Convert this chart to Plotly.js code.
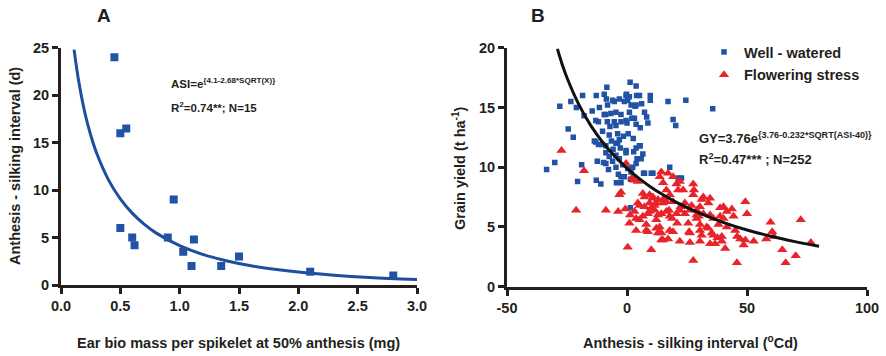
<!DOCTYPE html>
<html>
<head>
<meta charset="utf-8">
<script src="https://cdn.plot.ly/plotly-3.0.1.min.js"></script>
<style>
  html, body { margin: 0; padding: 0; background: #ffffff; }
  #chart { width: 886px; height: 356px; }
</style>
</head>
<body>
<div id="chart"></div>
<script>
// ---------- Panel A data ----------
const earMass = [0.45, 0.50, 0.55, 0.50, 0.60, 0.62, 0.90, 0.95, 1.03, 1.10, 1.12, 1.35, 1.50, 2.10, 2.80];
const asiDays = [24.0, 16.0, 16.5, 6.0, 5.0, 4.2, 5.0, 9.0, 3.5, 2.0, 4.8, 2.0, 3.0, 1.4, 1.0];
// fitted curve ASI = e^(4.1 - 2.68*sqrt(X))
const fitAx = [0.11, 0.15, 0.2, 0.25, 0.3, 0.4, 0.5, 0.6, 0.7, 0.8, 1.0, 1.2, 1.4, 1.6, 1.8, 2.0, 2.3, 2.6, 3.0];
const fitAy = [24.8, 21.4, 18.2, 15.8, 13.9, 11.08, 9.07, 7.57, 6.41, 5.49, 4.14, 3.20, 2.53, 2.03, 1.66, 1.36, 1.04, 0.80, 0.58];
const xTicksA = ["0.0", "0.5", "1.0", "1.5", "2.0", "2.5", "3.0"];
const yTicksA = ["0", "5", "10", "15", "20", "25"];

// ---------- Panel B data ----------
const wwASI = [-33.5,-30.1,-28.0,-23.4,-24.5,-22.4,-21.1,-18.5,-17.9,-18.9,-20.6,-14.5,-12.8,-13.0,-11.9,-13.6,-11.9,-13.0,-12.4,-12.8,
  -10.9,-10.2,-10.2,-9.5,-9.5,-8.6,-8.4,-8.1,-8.8,-8.2,-8.8,-8.8,-8.8,-7.7,-7.4,-7.4,-7.1,-6.7,-6.0,-5.3,
  -5.3,-4.6,-4.6,-4.6,-4.6,-4.6,-4.4,-3.9,-3.9,-3.2,-3.2,-3.2,-2.5,-2.5,-2.5,-2.5,-1.8,-1.1,-1.1,-0.4,
  -0.4,-0.4,-0.4,-0.2,0.3,0.0,0.3,1.0,1.0,1.3,1.5,1.4,1.7,1.7,2.0,2.4,2.6,2.8,3.1,3.4,
  3.8,3.8,3.8,3.8,3.8,4.0,4.2,5.2,5.2,5.5,5.5,5.9,6.1,6.6,6.9,7.3,7.3,8.2,8.7,9.7,
  9.7,10.1,10.8,17.1,17.8,19.2,20.3,21.3,22.7,24.5,35.7,-6.5,-5.8,-2.8,-1.5,-6.0,-9.8,-11.5,0.5,-3.6];
const wwGY = [9.8,10.4,15.1,15.5,13.2,12.5,15.0,16.0,14.3,10.2,8.8,14.7,16.0,13.9,13.8,12.2,11.9,12.1,10.5,8.9,
  8.6,11.9,13.0,14.4,16.1,15.7,16.7,15.2,14.4,13.8,11.8,11.2,10.3,9.8,10.9,12.7,13.4,14.5,15.6,15.5,
  13.8,14.6,13.5,12.0,11.0,10.0,8.7,12.8,12.0,15.7,12.3,10.7,14.4,13.8,8.7,9.2,10.2,15.5,9.2,16.0,
  13.9,11.4,11.2,16.1,15.6,13.7,9.9,15.9,14.6,17.1,9.0,6.6,15.2,9.6,14.1,10.0,12.4,11.3,14.1,15.1,
  16.8,15.2,13.6,11.6,10.3,16.0,10.7,16.0,11.8,13.3,11.8,10.7,15.3,11.1,9.5,14.6,9.5,14.2,13.7,16.0,
  15.6,9.5,9.5,15.5,10.0,14.0,13.5,9.1,9.1,15.6,14.9,12.2,11.5,11.6,12.6,10.5,10.4,15.0,12.8,9.4];

const fsASI = [-27.3,-17.9,-21.2,-8.8,-3.7,-0.7,-2.5,-3.2,-0.4,0.3,1.3,1.0,3.8,3.1,2.1,3.1,4.5,4.5,5.2,5.2,
  3.8,6.6,7.3,7.3,6.6,8.0,8.0,8.7,8.7,9.4,9.4,9.4,10.1,10.8,10.8,11.5,12.2,12.2,12.2,12.9,
  12.9,13.6,13.6,14.3,14.3,14.3,14.3,15.0,15.0,15.0,15.0,16.4,16.4,16.4,17.1,17.1,17.5,17.8,17.8,17.8,
  18.8,19.2,19.2,19.2,20.6,20.6,20.9,21.3,22.0,22.0,22.0,22.3,23.4,24.1,24.1,25.5,25.9,26.2,26.2,26.2,
  26.9,27.6,27.9,27.6,27.6,29.0,29.0,29.0,29.9,30.4,30.4,30.4,30.4,31.1,31.1,31.8,31.8,33.2,33.9,33.9,
  34.6,34.6,34.6,35.3,36.0,36.0,36.7,37.7,38.1,38.8,38.8,39.5,39.5,40.2,40.2,40.9,41.6,41.6,43.7,44.4,
  45.1,45.8,45.9,47.2,48.6,49.3,49.3,50.0,52.8,58.0,59.8,60.5,61.2,64.7,66.1,70.3,72.4,76.6,12.9,11.5,10.1];
const fsGY = [11.4,9.7,6.4,6.4,6.3,6.5,7.9,7.7,10.3,3.3,6.0,5.3,5.7,6.3,9.1,8.9,8.8,7.0,6.8,5.6,
  4.7,7.8,7.5,6.7,5.9,5.2,4.7,6.1,4.6,7.7,7.0,6.3,3.1,7.4,7.5,6.4,7.0,5.6,4.9,6.0,
  4.5,9.2,5.0,9.6,6.1,4.5,3.9,8.7,7.3,7.0,3.9,8.1,7.1,6.3,9.5,4.0,6.4,7.7,5.9,4.7,
  5.7,9.2,7.1,4.6,8.6,6.1,5.3,8.1,8.8,6.4,3.8,6.7,8.1,7.0,6.1,5.3,4.6,6.4,4.5,3.7,
  6.8,8.6,8.1,7.7,2.2,6.4,6.0,5.7,5.9,6.7,5.2,4.7,3.8,7.3,4.3,7.5,6.1,5.0,7.0,4.9,
  7.4,6.0,3.6,4.5,5.7,4.3,3.6,4.1,5.2,6.6,5.9,4.2,3.8,6.7,5.7,3.2,6.3,5.0,6.5,5.9,
  4.7,2.0,4.2,4.0,3.5,7.1,3.9,6.1,3.8,4.0,5.4,4.6,4.2,3.1,2.0,2.6,5.6,3.7,7.3,6.8,6.6];

// fitted curve GY
const fitBx = [-29, -27, -25, -20, -15, -10, -5, 0, 5, 10, 15, 20, 30, 40, 50, 60, 70, 80];
const fitBy = [19.9, 18.6, 17.49, 15.22, 13.46, 12.05, 10.89, 9.90, 9.06, 8.33, 7.69, 7.12, 6.17, 5.39, 4.75, 4.22, 3.77, 3.38];
const xTicksB = ["-50", "0", "50", "100"];
const yTicksB = ["0", "5", "10", "15", "20"];

const legendNames = ["Well - watered", "Flowering stress"];

// ---------- styling ----------
const FONT = "Liberation Sans, Arial, Helvetica, sans-serif";
const INK = "#231f20";
const BLUE = "#2252a4";
const RED = "#e8232a";
const b = s => "<b>" + s + "</b>";

const traces = [
  { x: fitAx, y: fitAy, xaxis: "x", yaxis: "y", mode: "lines", type: "scatter",
    line: { color: "#1f4e9e", width: 3, shape: "spline" }, showlegend: false, hoverinfo: "skip" },
  { x: earMass, y: asiDays, xaxis: "x", yaxis: "y", mode: "markers", type: "scatter",
    marker: { symbol: "square", size: 8, color: BLUE }, showlegend: false },
  { x: wwASI, y: wwGY, xaxis: "x2", yaxis: "y2", mode: "markers", type: "scatter", name: b(legendNames[0]),
    legendgroup: "g1",
    marker: { symbol: "square", size: 5.5, color: BLUE } },
  { x: fsASI, y: fsGY, xaxis: "x2", yaxis: "y2", mode: "markers", type: "scatter", name: b(legendNames[1]),
    legendgroup: "g2",
    marker: { symbol: "triangle-up", size: 9, color: RED } },
  { x: fitBx, y: fitBy, xaxis: "x2", yaxis: "y2", mode: "lines", type: "scatter",
    line: { color: "#111111", width: 3, shape: "spline" }, showlegend: false, hoverinfo: "skip" }
];

const axisCommon = {
  showgrid: false, zeroline: false, showline: true, linewidth: 3, linecolor: INK,
  ticks: "outside", ticklen: 6, tickwidth: 3, tickcolor: INK, mirror: false,
  tickfont: { family: FONT, size: 14.5, color: INK, weight: "bold" }, fixedrange: true
};

const W = 886, H = 356;
const px = v => v / W;
const py = v => (H - v) / H;
const titleFont = { family: FONT, size: 14.5, color: INK, weight: "bold" };

const layout = {
  width: W, height: H,
  margin: { l: 0, r: 0, t: 0, b: 0 },
  paper_bgcolor: "#ffffff", plot_bgcolor: "#ffffff",
  font: { family: FONT, color: INK },
  showlegend: true,
  legend: {
    x: px(704), y: py(36), xanchor: "left", yanchor: "top",
    font: { family: FONT, size: 14.5, color: INK, weight: "bold" },
    bgcolor: "rgba(0,0,0,0)", borderwidth: 0, tracegroupgap: 1, traceorder: "grouped"
  },
  xaxis: Object.assign({}, axisCommon, {
    domain: [px(61), px(417)], range: [0, 3.0], anchor: "y",
    tickvals: [0, 0.5, 1, 1.5, 2, 2.5, 3], ticktext: xTicksA.map(b)
  }),
  yaxis: Object.assign({}, axisCommon, {
    domain: [py(285), py(47.7)], range: [0, 25], anchor: "x",
    tickvals: [0, 5, 10, 15, 20, 25], ticktext: yTicksA.map(b)
  }),
  xaxis2: Object.assign({}, axisCommon, {
    domain: [px(507), px(867)], range: [-50, 100], anchor: "y2",
    tickvals: [-50, 0, 50, 100], ticktext: xTicksB.map(b)
  }),
  yaxis2: Object.assign({}, axisCommon, {
    domain: [py(286.7), py(47.7)], range: [0, 20], anchor: "x2",
    tickvals: [0, 5, 10, 15, 20], ticktext: yTicksB.map(b)
  }),
  annotations: [
    { text: b("A"), x: px(104), y: py(15), xref: "paper", yref: "paper", showarrow: false,
      xanchor: "center", yanchor: "middle", font: { family: FONT, size: 19, color: INK, weight: "bold" } },
    { text: b("B"), x: px(538), y: py(15), xref: "paper", yref: "paper", showarrow: false,
      xanchor: "center", yanchor: "middle", font: { family: FONT, size: 19, color: INK, weight: "bold" } },
    { text: b("Ear bio mass per spikelet at 50% anthesis (mg)"), x: px(239), y: py(343), xref: "paper", yref: "paper",
      showarrow: false, xanchor: "center", yanchor: "middle", font: titleFont },
    { text: b("Anthesis - silking interval (d)"), x: px(15), y: py(166), xref: "paper", yref: "paper", textangle: -90,
      showarrow: false, xanchor: "center", yanchor: "middle", font: titleFont },
    { text: b("Anthesis - silking interval (<sup>o</sup>Cd)"), x: px(690), y: py(342), xref: "paper", yref: "paper",
      showarrow: false, xanchor: "center", yanchor: "middle", font: titleFont },
    { text: b("Grain yield (t ha<sup>-1</sup>)"), x: px(459), y: py(168), xref: "paper", yref: "paper", textangle: -90,
      showarrow: false, xanchor: "center", yanchor: "middle", font: titleFont },
    { text: b("ASI=e<sup>{4.1-2.68*SQRT(X)}</sup>"), x: px(169), y: py(92), xref: "paper", yref: "paper",
      showarrow: false, xanchor: "left", yanchor: "bottom", font: { family: FONT, size: 11.5, color: INK, weight: "bold" } },
    { text: b("R<sup>2</sup>=0.74**; N=15"), x: px(169), y: py(116), xref: "paper", yref: "paper",
      showarrow: false, xanchor: "left", yanchor: "bottom", font: { family: FONT, size: 11.5, color: INK, weight: "bold" } },
    { text: b("GY=3.76e<sup>{3.76-0.232*SQRT(ASI-40)}</sup>"), x: px(697), y: py(148), xref: "paper", yref: "paper",
      showarrow: false, xanchor: "left", yanchor: "bottom", font: { family: FONT, size: 13, color: INK, weight: "bold" } },
    { text: b("R<sup>2</sup>=0.47*** ; N=252"), x: px(697), y: py(169), xref: "paper", yref: "paper",
      showarrow: false, xanchor: "left", yanchor: "bottom", font: { family: FONT, size: 13, color: INK, weight: "bold" } }
  ]
};

Plotly.newPlot("chart", traces, layout, { displayModeBar: false, staticPlot: true });
</script>
</body>
</html>
